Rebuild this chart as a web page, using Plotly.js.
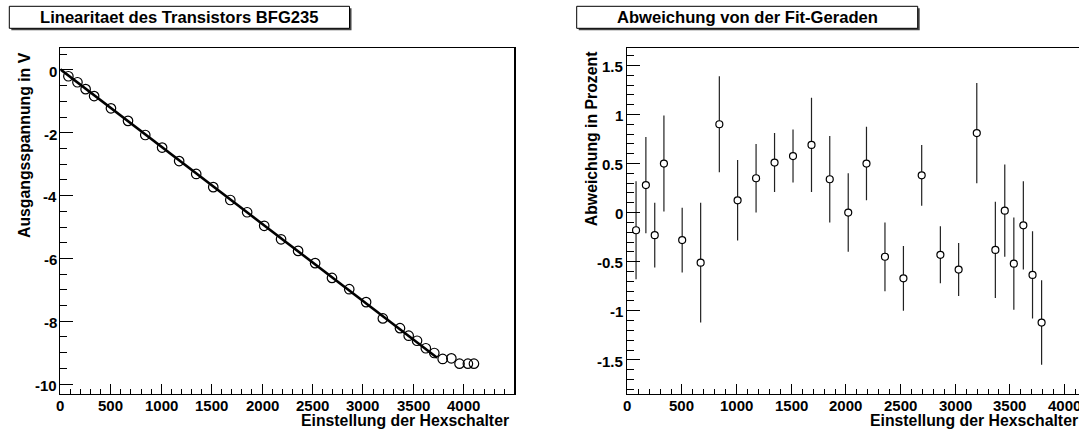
<!DOCTYPE html>
<html><head><meta charset="utf-8">
<script src="https://cdn.plot.ly/plotly-3.0.1.min.js"></script>
<style>html,body{margin:0;padding:0;overflow:hidden;background:#fff}#chart{width:1125px;height:430px}</style>
</head><body><div id="chart"></div><script>
// Hex switch settings (shared x values)
const hexSetting = [80, 170, 251, 335, 502, 671, 842, 1009, 1178, 1347, 1516, 1685, 1852, 2021, 2188, 2357, 2526, 2693, 2864, 3031, 3197, 3367, 3453, 3536, 3623, 3707, 3790, 3876, 3957, 4040, 4100];
// Output voltage in V
const voltage = [-0.20, -0.39, -0.61, -0.83, -1.22, -1.62, -2.07, -2.47, -2.90, -3.31, -3.73, -4.14, -4.53, -4.96, -5.39, -5.76, -6.15, -6.62, -6.98, -7.39, -7.91, -8.22, -8.46, -8.62, -8.86, -9.01, -9.20, -9.18, -9.35, -9.35, -9.35];
// Linear fit parameters and fitted range
const fitIntercept = 0.02;
const fitSlope = -0.002458;
const fitRange = [0, 3735];
// Deviation from the fit line in percent (first 27 settings)
const deviationPercent = [-0.18, 0.28, -0.23, 0.50, -0.28, -0.51, 0.90, 0.125, 0.35, 0.51, 0.576, 0.69, 0.34, 0.00, 0.50, -0.45, -0.67, 0.38, -0.43, -0.58, 0.81, -0.38, 0.02, -0.52, -0.13, -0.635, -1.12];
const deviationError = [0.50, 0.49, 0.33, 0.49, 0.33, 0.61, 0.49, 0.41, 0.35, 0.30, 0.27, 0.48, 0.44, 0.40, 0.375, 0.35, 0.33, 0.31, 0.29, 0.27, 0.51, 0.49, 0.47, 0.47, 0.45, 0.445, 0.43];
const deviationSetting = hexSetting.slice(0, deviationPercent.length);
// Tick labels
const xTickVals = [0, 500, 1000, 1500, 2000, 2500, 3000, 3500, 4000];
const yTickVals = [0, -2, -4, -6, -8, -10];
const y2TickVals = [-1.5, -1, -0.5, 0, 0.5, 1, 1.5];
// Texts
const leftTitle = 'Linearitaet des Transistors BFG235';
const rightTitle = 'Abweichung von der Fit-Geraden';
const xTitle = 'Einstellung der Hexschalter';
const leftYTitle = 'Ausgangsspannung in V';
const rightYTitle = 'Abweichung in Prozent';

const W = 1125, H = 430;
const px = p => p / W;
const py = p => 1 - p / H;
const FONT = 'Liberation Sans, Arial, Helvetica, sans-serif';

const fitY = fitRange.map(x => fitIntercept + fitSlope * x);

const traces = [
  {x: fitRange, y: fitY, type: 'scatter', mode: 'lines', line: {color: '#000', width: 2.6}, xaxis: 'x', yaxis: 'y', hoverinfo: 'skip'},
  {x: hexSetting, y: voltage, type: 'scatter', mode: 'markers', xaxis: 'x', yaxis: 'y',
   marker: {symbol: 'circle-open', size: 9.5, color: '#000', line: {width: 1.2, color: '#000'}}},
  {x: deviationSetting, y: deviationPercent, type: 'scatter', mode: 'markers', xaxis: 'x2', yaxis: 'y2',
   error_y: {type: 'data', array: deviationError, visible: true, color: '#222', thickness: 1.2, width: 0},
   marker: {symbol: 'circle', size: 7, color: '#fff', line: {width: 1.2, color: '#000'}}}
];

function common() {
  return {showline: true, linewidth: 1.5, linecolor: '#000', mirror: true, showgrid: false, zeroline: false,
    showticklabels: false, fixedrange: true, ticks: 'inside', tickwidth: 1, tickcolor: '#000', tickmode: 'array'};
}
function xAx(domain, anchor) {
  return Object.assign(common(), {domain: domain, anchor: anchor, range: [0, 4498],
    tickvals: xTickVals, ticklen: 9.5,
    minor: {tickmode: 'linear', dtick: 100, tick0: 0, ticks: 'inside', ticklen: 4.5, tickwidth: 1, tickcolor: '#000'}});
}
function yAx(domain, anchor, range, vals, mdt) {
  return Object.assign(common(), {domain: domain, anchor: anchor, range: range,
    tickvals: vals, ticklen: 13,
    minor: {tickmode: 'linear', dtick: mdt, tick0: 0, ticks: 'inside', ticklen: 6.5, tickwidth: 1, tickcolor: '#000'}});
}
const yDom = [py(393.5), py(48)];

function box(x0, x1, y0, y1) {
  return [
    {type: 'rect', xref: 'paper', yref: 'paper', x0: px(x0 + 2), x1: px(x1 + 2), y0: py(y1 + 2), y1: py(y0 + 2), fillcolor: '#444', line: {width: 0}, layer: 'below'},
    {type: 'rect', xref: 'paper', yref: 'paper', x0: px(x0), x1: px(x1), y0: py(y1), y1: py(y0), fillcolor: '#fff', line: {width: 1, color: '#000'}, layer: 'below'}
  ];
}

const bfont = size => ({family: FONT, size: size, color: '#000', weight: 700});
const ann = (text, x, y, xa, ya, angle, size) => ({text: '<b>' + text + '</b>', xref: 'paper', yref: 'paper', x: x, y: y, xanchor: xa, yanchor: ya,
  textangle: angle || 0, showarrow: false, borderpad: 0, font: bfont(size || 16)});

// Tick labels as bold annotations placed through the axes' own scales
const tickAnns = [];
['x', 'x2'].forEach(ax => xTickVals.forEach(v => tickAnns.push({
  text: '<b>' + String(v) + '</b>', xref: ax, yref: 'paper', x: v, y: py(395.6), xanchor: 'center', yanchor: 'top',
  showarrow: false, borderpad: 0, font: bfont(15)})));
yTickVals.forEach(v => tickAnns.push({text: '<b>' + String(v) + '</b>', xref: 'paper', yref: 'y', x: px(57.8), y: v,
  xanchor: 'right', yanchor: 'middle', yshift: -1.2, showarrow: false, borderpad: 0, font: bfont(15)}));
y2TickVals.forEach(v => tickAnns.push({text: '<b>' + String(v) + '</b>', xref: 'paper', yref: 'y2', x: px(624), y: v,
  xanchor: 'right', yanchor: 'middle', yshift: -1.2, showarrow: false, borderpad: 0, font: bfont(15)}));

const layout = {
  width: W, height: H, margin: {l: 0, r: 0, t: 0, b: 0}, paper_bgcolor: '#fff', plot_bgcolor: '#fff', showlegend: false,
  xaxis: xAx([px(60.3), px(514.1)], 'y'),
  yaxis: yAx(yDom, 'x', [-10.30, 0.70], yTickVals, 0.5),
  xaxis2: xAx([px(627.3), px(1119)], 'y2'),
  yaxis2: yAx(yDom, 'x2', [-1.843, 1.677], y2TickVals, 0.1),
  shapes: [].concat(box(9.3, 349.5, 6.3, 28.3), box(576.7, 917.7, 6.3, 28.3)),
  annotations: [
    ann(leftTitle, px(179.4), py(17.3), 'center', 'middle', 0, 16.6),
    ann(rightTitle, px(747.2), py(17.3), 'center', 'middle', 0, 16.6),
    ann(xTitle, px(509.5), py(420), 'right', 'middle', 0, 15.8),
    ann(xTitle, px(1078.5), py(420), 'right', 'middle', 0, 15.8),
    ann(leftYTitle, px(24), py(51), 'center', 'top', -90, 15.8),
    ann(rightYTitle, px(591.7), py(50), 'center', 'top', -90, 15.8)
  ].concat(tickAnns)
};
Plotly.newPlot('chart', traces, layout, {staticPlot: true, displayModeBar: false});
</script></body></html>
